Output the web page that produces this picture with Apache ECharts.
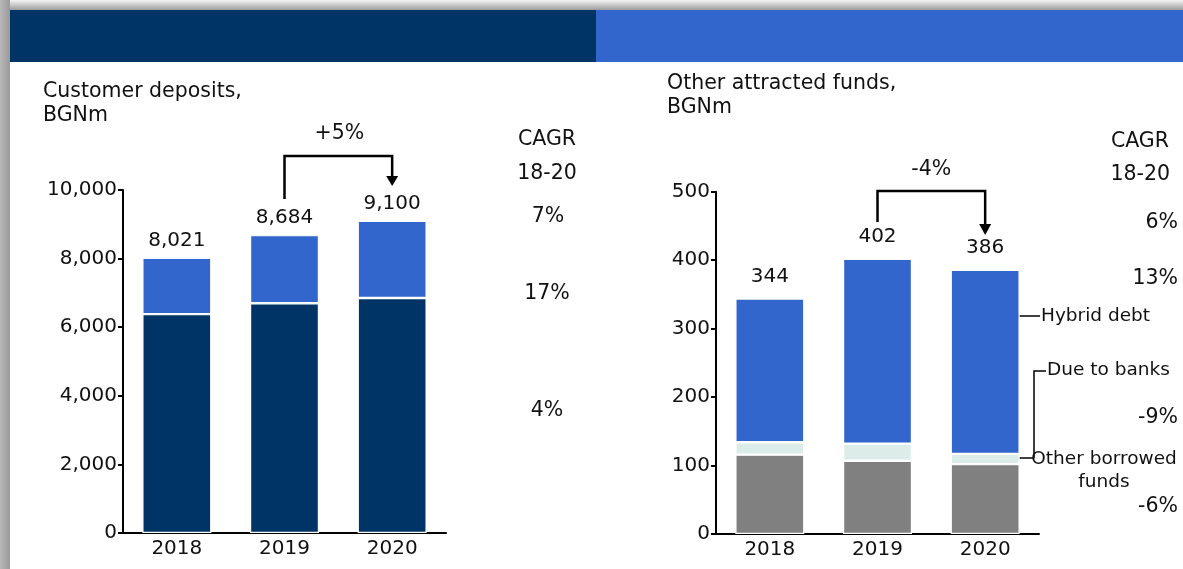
<!DOCTYPE html>
<html><head><meta charset="utf-8">
<script src="https://cdn.jsdelivr.net/npm/echarts@6/dist/echarts.min.js"></script>
<style>html,body{margin:0;padding:0;background:#fff;overflow:hidden}#c{width:1183px;height:569px}</style>
</head><body><div id="c"></div>
<script>
// ---- data ----
const years = ['2018', '2019', '2020'];
const depOther = [6380, 6700, 6850];      // lower (dark) segment
const depUpper = [1641, 1984, 2250];      // upper (blue) segment
const depTotals = [8021, 8684, 9100];
const depCagr = ['7%', '17%', '4%'];
const depChange = '+5%';
const othBorrowed = [116, 107, 102];      // grey
const dueBanks = [18, 25, 15];            // light green
const hybridDebt = [210, 270, 269];       // blue
const othTotals = [344, 402, 386];
const othCagr = ['6%', '13%', '-9%', '-6%'];
const othChange = '-4%';

const FONT = 'DejaVu Sans';
const NAVY = '#003366', BLUE = '#3366CC', GREEN = '#DCEDE9', GREY = '#808080';
const FS = 20, FT = 20.5;

const chart = echarts.init(document.getElementById('c'), null, {renderer: 'canvas'});
const fmt = v => Number(v).toLocaleString('en-US');

function xAx(i) {
  return {type: 'category', gridIndex: i, data: years,
    axisLine: {lineStyle: {color: '#000', width: 2}}, axisTick: {show: false},
    axisLabel: {fontSize: FS, color: '#111', margin: 6, fontFamily: FONT}};
}
function yAx(i, max, step) {
  return {type: 'value', gridIndex: i, min: 0, max: max, interval: step,
    axisLine: {show: true, lineStyle: {color: '#000', width: 2}},
    axisTick: {show: true, length: 5, lineStyle: {color: '#000', width: 2}},
    splitLine: {show: false},
    axisLabel: {fontSize: FS, color: '#111', margin: 6, fontFamily: FONT, formatter: fmt}};
}
const seg = (name, data, color, xi, stack, extra) => Object.assign({
  type: 'bar', name, data, stack, xAxisIndex: xi, yAxisIndex: xi, barWidth: 69,
  itemStyle: {color, borderColor: '#fff', borderWidth: 1.2}, animation: false
}, extra || {});

const option = {
  animation: false,
  textStyle: {fontFamily: FONT},
  grid: [
    {left: 123, top: 190, width: 323, height: 343},
    {left: 716, top: 191.7, width: 323, height: 342.3}
  ],
  xAxis: [xAx(0), xAx(1)],
  yAxis: [yAx(0, 10000, 2000), yAx(1, 500, 100)],
  series: [
    seg('Base', depOther, NAVY, 0, 'a'),
    seg('Upper', depUpper, BLUE, 0, 'a', {label: {show: true, position: 'top', distance: 7,
      fontSize: FS, color: '#111', fontFamily: FONT, formatter: p => fmt(depTotals[p.dataIndex])}}),
    seg('Other borrowed funds', othBorrowed, GREY, 1, 'b'),
    seg('Due to banks', dueBanks, GREEN, 1, 'b'),
    seg('Hybrid debt', hybridDebt, BLUE, 1, 'b', {label: {show: true, position: 'top', distance: 12,
      fontSize: FS, color: '#111', fontFamily: FONT, formatter: p => fmt(othTotals[p.dataIndex])}})
  ]
};
chart.setOption(option);

// ---- decorations (computed from axes) ----
const px = (xi, cat) => chart.convertToPixel({xAxisIndex: xi}, cat);
const T = (text, x, y, align, size) => ({type: 'text', silent: true, style: {
  text, x, y, fill: '#111', font: (size || FT) + 'px "' + FONT + '"',
  textAlign: align || 'left', textVerticalAlign: 'middle'}});
const L = (pts, w) => ({type: 'polyline', silent: true, shape: {points: pts},
  style: {stroke: '#000', lineWidth: w || 1.5, fill: null}});
const Tri = (x, yb, yt) => ({type: 'polygon', silent: true, shape: {points: [[x - 6, yb], [x + 6, yb], [x, yt]]},
  style: {fill: '#000'}});

const a19 = px(0, '2019'), a20 = px(0, '2020');
const b19 = px(1, '2019'), b20 = px(1, '2020');

const graphics = [
  // frame shadow
  {type: 'rect', silent: true, shape: {x: 0, y: 0, width: 1183, height: 10},
    style: {fill: new echarts.graphic.LinearGradient(0, 0, 0, 1, [{offset: 0, color: '#f4f4f4'}, {offset: 1, color: '#9c9c9c'}])}},
  {type: 'rect', silent: true, shape: {x: 0, y: 0, width: 10, height: 569},
    style: {fill: new echarts.graphic.LinearGradient(0, 0, 1, 0, [{offset: 0, color: '#b8b8b8'}, {offset: 1, color: '#9a9a9a'}])}},
  // header band
  {type: 'rect', silent: true, shape: {x: 10, y: 10, width: 586, height: 52}, style: {fill: NAVY}},
  {type: 'rect', silent: true, shape: {x: 596, y: 10, width: 587, height: 52}, style: {fill: BLUE}},
  // titles
  T('Customer deposits,', 43, 92, 'left'),
  T('BGNm', 43, 116, 'left'),
  T('Other attracted funds,', 667, 84, 'left'),
  T('BGNm', 667, 108, 'left'),
  // left bracket
  L([[a19, 199], [a19, 156], [a20, 156], [a20, 177]], 2.5), Tri(a20, 176, 186),
  T(depChange, (a19 + a20) / 2 + 1, 134, 'center'),
  // right bracket
  L([[b19, 222], [b19, 191], [b20, 191], [b20, 225]], 2.5), Tri(b20, 224, 235),
  T(othChange, (b19 + b20) / 2, 170, 'center'),
  // left CAGR column
  T('CAGR', 547, 140, 'center'), T('18-20', 547, 174, 'center'),
  T(depCagr[0], 548, 217, 'center'), T(depCagr[1], 547, 294, 'center'), T(depCagr[2], 547, 411, 'center'),
  // right CAGR column
  T('CAGR', 1169, 142, 'right'), T('18-20', 1170, 175, 'right'),
  T(othCagr[0], 1178, 223, 'right'), T(othCagr[1], 1178, 279, 'right'),
  T(othCagr[2], 1178, 418, 'right'), T(othCagr[3], 1178, 507, 'right'),
  // right leader labels
  L([[1015, 316], [1040, 316]]), T('Hybrid debt', 1041, 316, 'left', 18.5),
  L([[1046, 371], [1034, 371], [1034, 458]]), T('Due to banks', 1047, 370, 'left', 18.5),
  L([[1015, 458], [1033, 458]]),
  T('Other borrowed', 1104, 459, 'center', 18.5), T('funds', 1104, 482, 'center', 18.5)
];
chart.setOption({graphic: graphics});
</script></body></html>
